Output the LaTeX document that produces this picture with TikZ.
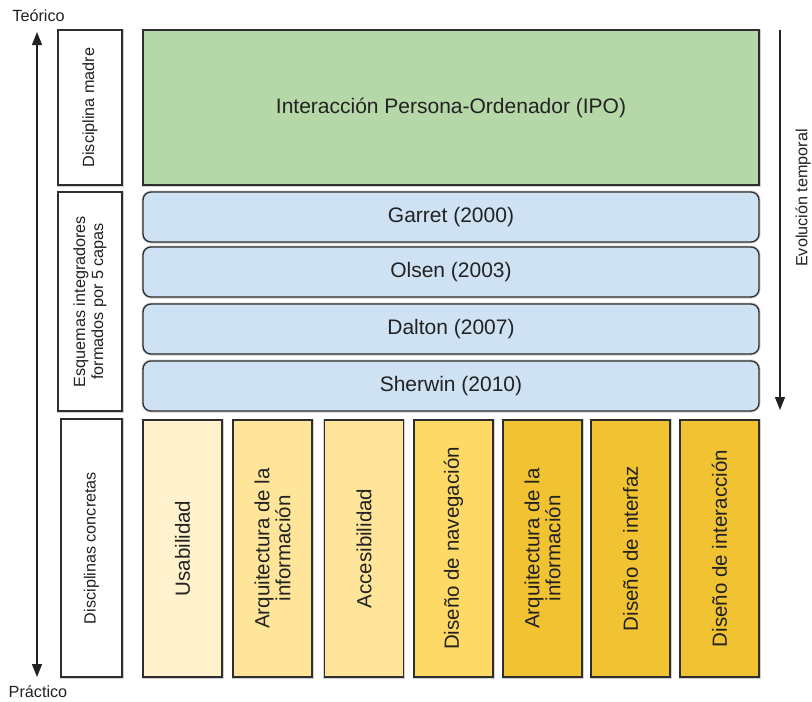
\documentclass[tikz,border=0pt]{standalone}
\usepackage{fontspec}
\setmainfont{Liberation Sans}
\usetikzlibrary{arrows.meta}

\definecolor{ink}{HTML}{222222}
\definecolor{edge}{HTML}{2E2E2E}
\definecolor{ipogreen}{HTML}{B6D7A8}
\definecolor{layerblue}{HTML}{CFE2F3}
\definecolor{ylwA}{HTML}{FFF2CC}
\definecolor{ylwB}{HTML}{FFE599}
\definecolor{ylwC}{HTML}{FFD966}
\definecolor{ylwD}{HTML}{F1C232}

\tikzset{
  box/.style={draw=edge, line width=1.3pt, inner sep=0pt, text=ink, align=center,
              preaction={draw=black!18, line width=3pt}},
  sidebox/.style={box, fill=white, rotate=90, font=\fontsize{16.2}{18}\selectfont},
  layer/.style={box, fill=layerblue, rounded corners=8pt, minimum width=616pt,
                minimum height=50pt, font=\fontsize{21}{22}\selectfont},
  discipline/.style={box, rotate=90, minimum width=257pt, minimum height=79pt,
                     font=\fontsize{20.5}{21}\selectfont},
  axislabel/.style={text=ink, inner sep=0pt, font=\fontsize{16.2}{18}\selectfont},
  axis/.style={draw=ink, line width=1.3pt},
}

\begin{document}
\begin{tikzpicture}[x=1pt, y=-1pt]
  \useasboundingbox (0,0) rectangle (812,702);

  % axis theory/practice
  \node[axislabel] (teo) at (38.5,16) {Teórico};
  \node[axislabel] (pra) at (38,692) {Práctico};
  \coordinate (axtop) at (37,32);
  \coordinate (axbot) at (37,677);
  \draw[axis, {Triangle[length=13pt,width=10pt]}-{Triangle[length=13pt,width=10pt]}] (axbot) -- (axtop);

  % side headings
  \node[sidebox, minimum width=155pt, minimum height=64pt] (madre) at (90,107.5) {Disciplina madre};
  \node[sidebox, minimum width=219pt, minimum height=64pt] (esq) at (90,301.5)
       {Esquemas integradores\\formados por 5 capas};
  \node[sidebox, minimum width=258pt, minimum height=61pt] (conc) at (91.5,548) {Disciplinas concretas};

  % parent discipline
  \node[box, fill=ipogreen, minimum width=616pt, minimum height=155pt,
        font=\fontsize{21}{22}\selectfont] (ipo) at (451,107.5)
       {Interacción Persona-Ordenador (IPO)};

  % five-layer schemes
  \node[layer] (garret)  at (451,217) {Garret (2000)};
  \node[layer] (olsen)   at (451,272) {Olsen (2003)};
  \node[layer] (dalton)  at (451,329) {Dalton (2007)};
  \node[layer] (sherwin) at (451,386) {Sherwin (2010)};

  % concrete disciplines
  \node[discipline, fill=ylwA] (usa)  at (182.5,548.5) {Usabilidad};
  \node[discipline, fill=ylwB] (arq1) at (272.5,548.5) {Arquitectura de la\\información};
  \node[discipline, fill=ylwB] (acc)  at (364,548.5)   {Accesibilidad};
  \node[discipline, fill=ylwC] (nav)  at (453.5,548.5) {Diseño de navegación};
  \node[discipline, fill=ylwD] (arq2) at (542.5,548.5) {Arquitectura de la\\información};
  \node[discipline, fill=ylwD] (intf) at (630.5,548.5) {Diseño de interfaz};
  \node[discipline, fill=ylwD] (inter) at (719.5,548.5) {Diseño de interacción};

  % time evolution
  \coordinate (evtop) at (780,30);
  \coordinate (evbot) at (780,410);
  \draw[axis, -{Triangle[length=13pt,width=10pt]}] (evtop) -- (evbot);
  \node[axislabel, rotate=90] (evo) at (803,198) {Evolución temporal};
\end{tikzpicture}
\end{document}
